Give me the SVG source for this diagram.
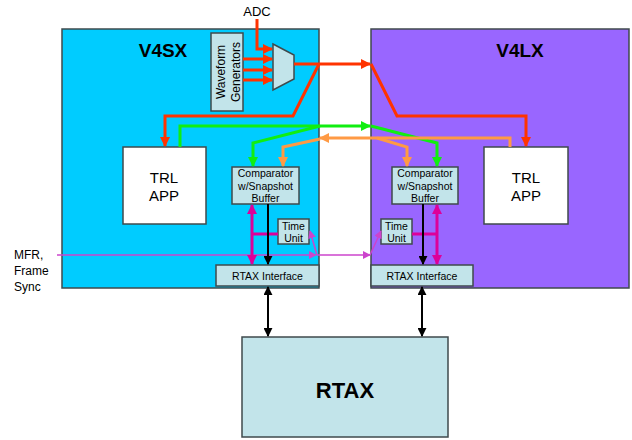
<svg xmlns="http://www.w3.org/2000/svg" width="632" height="440" viewBox="0 0 632 440">
<style>
text{font-family:"Liberation Sans",Arial,sans-serif;fill:#000}
.box{fill:#C2E4EA;stroke:#3F4A4C;stroke-width:1.5}
.sm{font-size:10.5px;text-anchor:middle}
.red{stroke:#FF3300;stroke-width:3;fill:none}
.grn{stroke:#11EE11;stroke-width:3;fill:none}
.org{stroke:#FF9A44;stroke-width:3;fill:none}
.mag{stroke:#DD0099;stroke-width:3;fill:none}
.blk{stroke:#000;stroke-width:2;fill:none}
.mfr{stroke:#CC44CC;stroke-width:1.5;fill:none}
</style>
<defs>
<marker id="aR" viewBox="0 0 10 10" refX="9" refY="5" markerWidth="10" markerHeight="10" markerUnits="userSpaceOnUse" orient="auto-start-reverse"><path d="M0,0L10,5L0,10z" fill="#FF3300"/></marker>
<marker id="aG" viewBox="0 0 10 10" refX="9" refY="5" markerWidth="10" markerHeight="10" markerUnits="userSpaceOnUse" orient="auto-start-reverse"><path d="M0,0L10,5L0,10z" fill="#11EE11"/></marker>
<marker id="aO" viewBox="0 0 10 10" refX="9" refY="5" markerWidth="10" markerHeight="10" markerUnits="userSpaceOnUse" orient="auto-start-reverse"><path d="M0,0L10,5L0,10z" fill="#FF9A44"/></marker>
<marker id="aM" viewBox="0 0 10 10" refX="9" refY="5" markerWidth="10" markerHeight="10" markerUnits="userSpaceOnUse" orient="auto-start-reverse"><path d="M0,0L10,5L0,10z" fill="#DD0099"/></marker>
<marker id="aK" viewBox="0 0 10 10" refX="9" refY="5" markerWidth="9" markerHeight="9" markerUnits="userSpaceOnUse" orient="auto-start-reverse"><path d="M0,0L10,5L0,10z" fill="#000"/></marker>
<marker id="aP" viewBox="0 0 10 10" refX="9" refY="5" markerWidth="8" markerHeight="8" markerUnits="userSpaceOnUse" orient="auto-start-reverse"><path d="M0,0L10,5L0,10z" fill="#CC44CC"/></marker>
</defs>

<g id="v4sx">
<rect x="62" y="29" width="257" height="259" fill="#00CCFF" stroke="#3F4A4C" stroke-width="1.5"/>
<text x="163" y="57" font-size="19" font-weight="bold" text-anchor="middle">V4SX</text>
</g>
<g id="v4lx">
<rect x="371" y="29" width="258" height="259" fill="#9966FF" stroke="#3F4A4C" stroke-width="1.5"/>
<text x="520" y="57" font-size="19" font-weight="bold" text-anchor="middle">V4LX</text>
</g>

<g id="adc-label"><text x="257" y="16" font-size="13" text-anchor="middle">ADC</text></g>
<g id="mfr-label">
<text x="14" y="259" font-size="12">MFR,</text>
<text x="14" y="275" font-size="12">Frame</text>
<text x="14" y="291" font-size="12">Sync</text>
</g>

<g id="waveform">
<rect class="box" x="211" y="33" width="32" height="78"/>
<text transform="translate(225,72) rotate(-90)" font-size="12" text-anchor="middle">Waveform</text>
<text transform="translate(240,72) rotate(-90)" font-size="12" text-anchor="middle">Generators</text>
</g>
<g id="mux"><polygon class="box" points="273,44 294,55 294,79 273,90"/></g>

<g id="trl-left">
<rect x="123" y="147" width="83" height="77" fill="#fff" stroke="#3F4A4C" stroke-width="1.5"/>
<text x="164" y="183" font-size="15" text-anchor="middle">TRL</text>
<text x="164" y="201" font-size="15" text-anchor="middle">APP</text>
</g>
<g id="trl-right">
<rect x="484" y="147" width="84" height="77" fill="#fff" stroke="#3F4A4C" stroke-width="1.5"/>
<text x="526" y="183" font-size="15" text-anchor="middle">TRL</text>
<text x="526" y="201" font-size="15" text-anchor="middle">APP</text>
</g>

<g id="comp-left">
<rect class="box" x="232" y="167" width="67" height="37"/>
<text class="sm" x="265.5" y="177">Comparator</text>
<text class="sm" x="265.5" y="189.5">w/Snapshot</text>
<text class="sm" x="265.5" y="202">Buffer</text>
</g>
<g id="comp-right">
<rect class="box" x="392" y="167" width="66" height="37"/>
<text class="sm" x="425" y="177">Comparator</text>
<text class="sm" x="425" y="189.5">w/Snapshot</text>
<text class="sm" x="425" y="202">Buffer</text>
</g>

<g id="time-left">
<rect class="box" x="278" y="219" width="31" height="25"/>
<text class="sm" x="293.5" y="230">Time</text>
<text class="sm" x="293.5" y="242">Unit</text>
</g>
<g id="time-right">
<rect class="box" x="381" y="219" width="31" height="25"/>
<text class="sm" x="396.5" y="230">Time</text>
<text class="sm" x="396.5" y="242">Unit</text>
</g>

<g id="rtaxif-left">
<rect class="box" x="216" y="265" width="103" height="21"/>
<text class="sm" x="267.5" y="279.5">RTAX Interface</text>
</g>
<g id="rtaxif-right">
<rect class="box" x="371" y="265" width="102" height="21"/>
<text class="sm" x="422" y="279.5">RTAX Interface</text>
</g>

<g id="rtax">
<rect class="box" x="242" y="337" width="206" height="100"/>
<text x="345" y="398" font-size="22" font-weight="bold" text-anchor="middle">RTAX</text>
</g>

<g id="connectors">
<path class="red" d="M257,19V49H272" marker-end="url(#aR)"/>
<path class="red" d="M243,59H272" marker-end="url(#aR)"/>
<path class="red" d="M243,70H272" marker-end="url(#aR)"/>
<path class="red" d="M243,80H272" marker-end="url(#aR)"/>
<path class="red" d="M294,64H370" marker-end="url(#aR)"/>
<path class="red" d="M319,64L293,116H165V146" marker-end="url(#aR)"/>
<path class="red" d="M371,64L397,116H526V146" marker-end="url(#aR)"/>

<path class="grn" d="M180,147V126H370" marker-end="url(#aG)"/>
<path class="grn" d="M320,126L253,143V166" marker-end="url(#aG)"/>
<path class="grn" d="M371,126L437,143V166" marker-end="url(#aG)"/>

<path class="org" d="M510,147V138H320" marker-end="url(#aO)"/>
<path class="org" d="M377,138L407,147V166" marker-end="url(#aO)"/>
<path class="org" d="M320,139L283,147V166" marker-end="url(#aO)"/>

<path class="mfr" d="M57,255H316" marker-end="url(#aP)"/>
<path class="mfr" d="M317,255H370" marker-end="url(#aP)"/>
<path class="mfr" d="M317,255L310,231" marker-end="url(#aP)"/>
<path class="mfr" d="M370,255L381,231" marker-end="url(#aP)"/>

<path class="mag" d="M252,205V264" marker-start="url(#aM)" marker-end="url(#aM)"/>
<path class="mag" d="M252,234H278"/>
<path class="mag" d="M437,205V264" marker-start="url(#aM)" marker-end="url(#aM)"/>
<path class="mag" d="M412,234H437"/>

<path class="blk" d="M268,204V264" marker-end="url(#aK)"/>
<path class="blk" d="M423,204V264" marker-end="url(#aK)"/>
<path class="blk" d="M268,287V336" marker-start="url(#aK)" marker-end="url(#aK)"/>
<path class="blk" d="M422,287V336" marker-start="url(#aK)" marker-end="url(#aK)"/>
</g>
</svg>
